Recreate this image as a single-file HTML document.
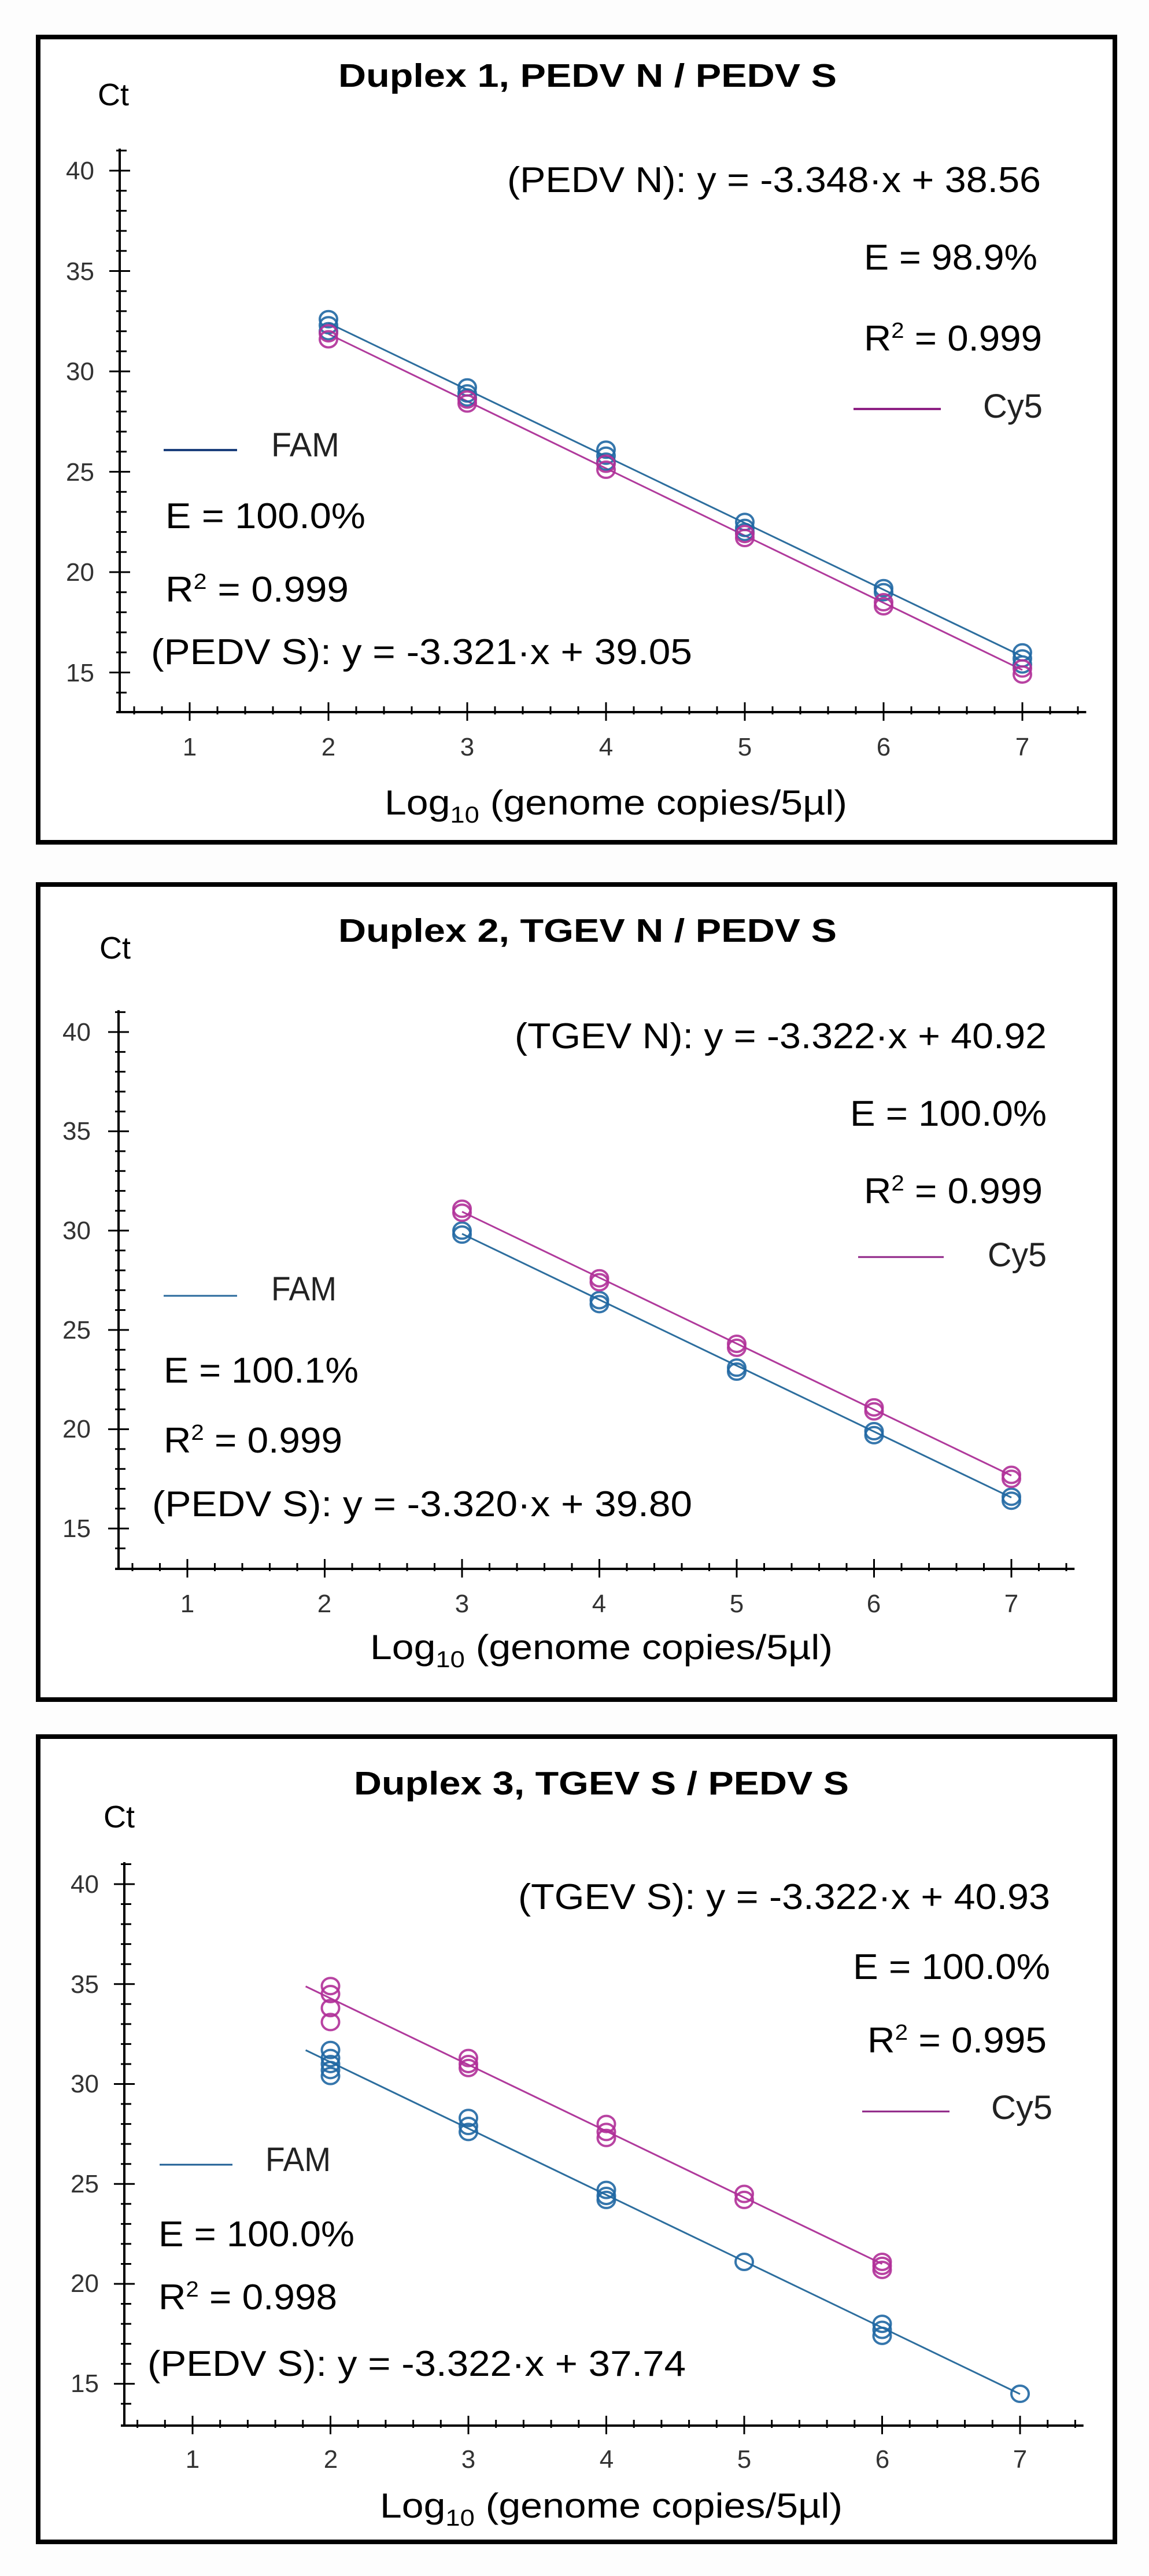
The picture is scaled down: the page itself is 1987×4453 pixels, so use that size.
<!DOCTYPE html>
<html><head><meta charset="utf-8"><style>
html,body{margin:0;padding:0;background:#fdfdfd;}
svg{display:block;font-family:"Liberation Sans",Arial,sans-serif;}
</style></head><body>
<svg id="s" width="1987" height="4453" viewBox="0 0 1987 4453" xmlns="http://www.w3.org/2000/svg">
<rect x="0" y="0" width="1987" height="4453" fill="#fdfdfd"/>
<rect x="66" y="64" width="1862" height="1392" fill="#fff" stroke="#000" stroke-width="8"/>
<rect x="66" y="1529" width="1862" height="1409" fill="#fff" stroke="#000" stroke-width="8"/>
<rect x="66" y="3002" width="1862" height="1392" fill="#fff" stroke="#000" stroke-width="8"/>
<g id="dyn"></g>

<g fill="#000">
<text x="585" y="150" font-size="57" font-weight="bold" textLength="862" lengthAdjust="spacingAndGlyphs">Duplex 1, PEDV N / PEDV S</text>
<text x="169" y="182" font-size="54">Ct</text>
<text x="877" y="332" font-size="62" textLength="923" lengthAdjust="spacingAndGlyphs">(PEDV N): y = -3.348·x + 38.56</text>
<text x="1494" y="466" font-size="62" textLength="300" lengthAdjust="spacingAndGlyphs">E = 98.9%</text>
<text x="1494" y="606" font-size="62" textLength="308" lengthAdjust="spacingAndGlyphs">R<tspan font-size="38" dy="-22">2</tspan><tspan dy="22"> = 0.999</tspan></text>
<text x="1700" y="722" font-size="58" fill="#222" textLength="103" lengthAdjust="spacingAndGlyphs">Cy5</text>
<text x="469" y="789" font-size="58" fill="#222" textLength="118" lengthAdjust="spacingAndGlyphs">FAM</text>
<text x="286" y="913" font-size="62" textLength="346" lengthAdjust="spacingAndGlyphs">E = 100.0%</text>
<text x="286" y="1040" font-size="62" textLength="317" lengthAdjust="spacingAndGlyphs">R<tspan font-size="38" dy="-22">2</tspan><tspan dy="22"> = 0.999</tspan></text>
<text x="261" y="1148" font-size="62" textLength="936" lengthAdjust="spacingAndGlyphs">(PEDV S): y = -3.321·x + 39.05</text>
<text x="665" y="1408" font-size="60" textLength="800" lengthAdjust="spacingAndGlyphs">Log<tspan font-size="40" dy="14">10</tspan><tspan dy="-14"> (genome copies/5µl)</tspan></text>
</g>

<g fill="#000">
<text x="585" y="1628" font-size="57" font-weight="bold" textLength="862" lengthAdjust="spacingAndGlyphs">Duplex 2, TGEV N / PEDV S</text>
<text x="172" y="1657" font-size="54">Ct</text>
<text x="890" y="1812" font-size="62" textLength="920" lengthAdjust="spacingAndGlyphs">(TGEV N): y = -3.322·x + 40.92</text>
<text x="1470" y="1946" font-size="62" textLength="340" lengthAdjust="spacingAndGlyphs">E = 100.0%</text>
<text x="1494" y="2080" font-size="62" textLength="309" lengthAdjust="spacingAndGlyphs">R<tspan font-size="38" dy="-22">2</tspan><tspan dy="22"> = 0.999</tspan></text>
<text x="1708" y="2189" font-size="58" fill="#222" textLength="102" lengthAdjust="spacingAndGlyphs">Cy5</text>
<text x="469" y="2248" font-size="58" fill="#222" textLength="113" lengthAdjust="spacingAndGlyphs">FAM</text>
<text x="283" y="2390" font-size="62" textLength="337" lengthAdjust="spacingAndGlyphs">E = 100.1%</text>
<text x="283" y="2511" font-size="62" textLength="309" lengthAdjust="spacingAndGlyphs">R<tspan font-size="38" dy="-22">2</tspan><tspan dy="22"> = 0.999</tspan></text>
<text x="263" y="2621" font-size="62" textLength="934" lengthAdjust="spacingAndGlyphs">(PEDV S): y = -3.320·x + 39.80</text>
<text x="640" y="2868" font-size="60" textLength="800" lengthAdjust="spacingAndGlyphs">Log<tspan font-size="40" dy="14">10</tspan><tspan dy="-14"> (genome copies/5µl)</tspan></text>
</g>

<g fill="#000">
<text x="612" y="3102" font-size="57" font-weight="bold" textLength="856" lengthAdjust="spacingAndGlyphs">Duplex 3, TGEV S / PEDV S</text>
<text x="179" y="3159" font-size="54">Ct</text>
<text x="896" y="3300" font-size="62" textLength="920" lengthAdjust="spacingAndGlyphs">(TGEV S): y = -3.322·x + 40.93</text>
<text x="1475" y="3421" font-size="62" textLength="341" lengthAdjust="spacingAndGlyphs">E = 100.0%</text>
<text x="1500" y="3548" font-size="62" textLength="310" lengthAdjust="spacingAndGlyphs">R<tspan font-size="38" dy="-22">2</tspan><tspan dy="22"> = 0.995</tspan></text>
<text x="1714" y="3663" font-size="58" fill="#222" textLength="106" lengthAdjust="spacingAndGlyphs">Cy5</text>
<text x="459" y="3753" font-size="58" fill="#222" textLength="113" lengthAdjust="spacingAndGlyphs">FAM</text>
<text x="274" y="3883" font-size="62" textLength="339" lengthAdjust="spacingAndGlyphs">E = 100.0%</text>
<text x="274" y="3992" font-size="62" textLength="309" lengthAdjust="spacingAndGlyphs">R<tspan font-size="38" dy="-22">2</tspan><tspan dy="22"> = 0.998</tspan></text>
<text x="255" y="4107" font-size="62" textLength="931" lengthAdjust="spacingAndGlyphs">(PEDV S): y = -3.322·x + 37.74</text>
<text x="657" y="4352" font-size="60" textLength="800" lengthAdjust="spacingAndGlyphs">Log<tspan font-size="40" dy="14">10</tspan><tspan dy="-14"> (genome copies/5µl)</tspan></text>
</g>

<g font-size="44" fill="#333" text-anchor="end">
<text x="163" y="310">40</text><text x="163" y="484">35</text><text x="163" y="657">30</text><text x="163" y="831">25</text><text x="163" y="1004">20</text><text x="163" y="1178">15</text>
<text x="157" y="1799">40</text><text x="157" y="1970">35</text><text x="157" y="2142">30</text><text x="157" y="2314">25</text><text x="157" y="2485">20</text><text x="157" y="2657">15</text>
<text x="171" y="3272">40</text><text x="171" y="3445">35</text><text x="171" y="3617">30</text><text x="171" y="3790">25</text><text x="171" y="3962">20</text><text x="171" y="4135">15</text>
</g>
<g font-size="44" fill="#333" text-anchor="middle">
<text x="328" y="1306">1</text><text x="568" y="1306">2</text><text x="808" y="1306">3</text><text x="1048" y="1306">4</text><text x="1288" y="1306">5</text><text x="1528" y="1306">6</text><text x="1768" y="1306">7</text>
<text x="324" y="2787">1</text><text x="561" y="2787">2</text><text x="799" y="2787">3</text><text x="1036" y="2787">4</text><text x="1274" y="2787">5</text><text x="1511" y="2787">6</text><text x="1749" y="2787">7</text>
<text x="333" y="4266">1</text><text x="572" y="4266">2</text><text x="810" y="4266">3</text><text x="1049" y="4266">4</text><text x="1287" y="4266">5</text><text x="1526" y="4266">6</text><text x="1764" y="4266">7</text>
</g>

<line x1="283" y1="778" x2="410" y2="778" stroke="#1b3f7c" stroke-width="4"/>
<line x1="1476" y1="707" x2="1627" y2="707" stroke="#8d2184" stroke-width="4"/>
<line x1="283" y1="2240" x2="410" y2="2240" stroke="#2a6a9c" stroke-width="3"/>
<line x1="1484" y1="2173" x2="1632" y2="2173" stroke="#8d2184" stroke-width="3"/>
<line x1="276" y1="3742" x2="402" y2="3742" stroke="#1f5f95" stroke-width="3"/>
<line x1="1491" y1="3650" x2="1642" y2="3650" stroke="#8d2184" stroke-width="3"/>
</svg>
<script>
(function(){
var NS="http://www.w3.org/2000/svg",g=document.getElementById("dyn");
function el(t,a){var e=document.createElementNS(NS,t);for(var k in a)e.setAttribute(k,a[k]);g.appendChild(e);return e;}
var P=[
 {x0:88,ux:240,y40:295,uy:34.7,ax:207,ay:1231,
  lines:[{m:-3.321,b:39.05,f:2,t:7,c:"#2d6e9e"},{m:-3.348,b:38.56,f:2,t:7,c:"#b03a9c"}],
  fam:{2:[32.6,32.3,32.0],3:[29.2,28.9,28.7],4:[26.1,25.8,25.5],5:[22.5,22.2,22.0],6:[19.2,19.0],7:[16.0,15.7,15.4]},
  cy:{2:[31.9,31.6],3:[28.6,28.4],4:[25.4,25.1],5:[21.9,21.7],6:[18.5,18.3],7:[15.2,14.9]}},
 {x0:86.5,ux:237.5,y40:1784,uy:34.33,ax:205,ay:2712,
  lines:[{m:-3.320,b:39.80,f:3,t:7,c:"#2d6e9e"},{m:-3.322,b:40.92,f:3,t:7,c:"#b03a9c"}],
  fam:{3:[30.0,29.8],4:[26.5,26.3],5:[23.1,22.9],6:[19.9,19.7],7:[16.6,16.4]},
  cy:{3:[31.1,30.9],4:[27.6,27.4],5:[24.3,24.1],6:[21.1,20.9],7:[17.7,17.5]}},
 {x0:94.5,ux:238.5,y40:3257,uy:34.55,ax:215,ay:4193,
  lines:[{m:-3.322,b:37.74,f:1.82,t:7,c:"#2d6e9e"},{m:-3.322,b:40.93,f:1.82,t:6,c:"#b03a9c"}],
  fam:{2:[31.7,31.3,31.0,30.7,30.4],3:[28.3,27.9,27.6],4:[24.7,24.4,24.2],5:[21.1],6:[18.0,17.7,17.4],7:[14.5]},
  cy:{2:[34.9,34.5,33.8,33.1],3:[31.3,31.0,30.8],4:[28.0,27.6,27.3],5:[24.5,24.2],6:[21.1,20.9,20.7]}}
];
P.forEach(function(p){
 function X(v){return p.x0+v*p.ux;} function Y(c){return p.y40+(40-c)*p.uy;}
 var top=Y(41.1), right=X(7.46);
 el("line",{x1:p.ax,y1:top,x2:p.ax,y2:p.ay,stroke:"#000","stroke-width":4});
 el("line",{x1:p.ax-6,y1:p.ay,x2:right,y2:p.ay,stroke:"#000","stroke-width":4});
 for(var c=14;c<=41;c++){var y=Y(c);if(y>p.ay-4)continue;
  if(c%5==0)el("line",{x1:p.ax-18,y1:y,x2:p.ax+18,y2:y,stroke:"#000","stroke-width":3});
  else el("line",{x1:p.ax-6,y1:y,x2:p.ax+12,y2:y,stroke:"#000","stroke-width":3});}
 for(var i=3;i<=37;i++){var v=i/5,x=X(v);if(x<p.ax+10)continue;
  if(i%5==0)el("line",{x1:x,y1:p.ay-17,x2:x,y2:p.ay+15,stroke:"#000","stroke-width":3});
  else el("line",{x1:x,y1:p.ay-10,x2:x,y2:p.ay+4,stroke:"#000","stroke-width":3});}
 p.lines.forEach(function(l){el("line",{x1:X(l.f),y1:Y(l.m*l.f+l.b),x2:X(l.t),y2:Y(l.m*l.t+l.b),stroke:l.c,"stroke-width":3});});
 function pts(o,col){for(var k in o)o[k].forEach(function(c){el("ellipse",{cx:X(+k),cy:Y(c),rx:15,ry:14,fill:"none",stroke:col,"stroke-width":4,"stroke-opacity":0.9});});}
 pts(p.fam,"#1f67a3");pts(p.cy,"#b02f98");
});
})();
</script>
</body></html>
